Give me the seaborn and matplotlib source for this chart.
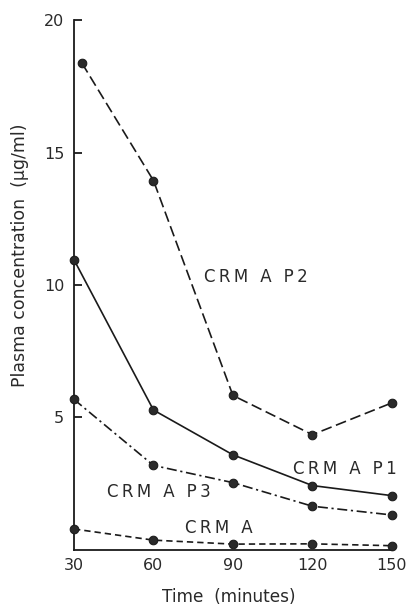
import matplotlib
matplotlib.use("Agg")
import matplotlib.pyplot as plt
import seaborn as sns
import pandas as pd

times = [30, 60, 90, 120, 150]
p2_times = [33, 60, 90, 120, 150]
crm_a_p2 = [18.37, 13.94, 5.83, 4.35, 5.55]
crm_a_p1 = [10.95, 5.28, 3.59, 2.43, 2.05]
crm_a_p3 = [5.68, 3.19, 2.54, 1.65, 1.32]
crm_a = [0.79, 0.37, 0.22, 0.23, 0.16]

x_ticks = [30, 60, 90, 120, 150]
y_ticks = [5, 10, 15, 20]

sns.set_theme(style="ticks")
plt.rcParams['font.family'] = ['DejaVu Sans']


def spaced(s):
    """Widely letter-spaced text, like the typeset original."""
    words = s.split(" ")
    return "\u2009 \u2009".join("\u2009".join(w) for w in words)


fig = plt.figure(figsize=(4.09, 6.07), dpi=100)
ax = fig.add_axes([0.181, 0.094, 0.777, 0.873])

text_color = "#2a2a2a"
series = [
    ("CRM A P2", p2_times, crm_a_p2, (0, (6.5, 2.8))),
    ("CRM A P1", times, crm_a_p1, "-"),
    ("CRM A P3", times, crm_a_p3, (0, (6.0, 2.2, 1.3, 2.2))),
    ("CRM A", times, crm_a, (0, (3.8, 2.4))),
]
for name, xs, ys, ls in series:
    df = pd.DataFrame({"t": xs, "c": ys})
    sns.lineplot(data=df, x="t", y="c", ax=ax, color="#1a1a1a",
                 linewidth=1.2, linestyle=ls, marker="o", markersize=6.2,
                 markeredgecolor="#1a1a1a", markerfacecolor="#2a2a2a",
                 clip_on=False, zorder=3)

labels = [
    ("CRM A P2", 98.5, 10.3),
    ("CRM A P1", 132.3, 3.04),
    ("CRM A P3", 62.0, 2.2),
    ("CRM A", 84.5, 0.84),
]
for txt, x, y in labels:
    ax.text(x, y, spaced(txt), ha="center", va="center",
            fontsize=12, color=text_color)

ax.set_xlim(30, 150)
ax.set_ylim(0, 20)
ax.set_xticks(x_ticks)
ax.set_yticks(y_ticks)
ax.set_xticklabels([str(v) for v in x_ticks])
ax.set_yticklabels([str(v) for v in y_ticks])

for side in ["top", "right"]:
    ax.spines[side].set_visible(False)
for side in ["left", "bottom"]:
    ax.spines[side].set_linewidth(1.3)
    ax.spines[side].set_color("#1a1a1a")

ax.tick_params(axis="y", direction="in", length=6, width=1.3, pad=7,
               labelsize=11.5, labelcolor=text_color, color="#1a1a1a")
ax.tick_params(axis="x", direction="in", length=0, width=1.3, pad=6,
               labelsize=11.5, labelcolor=text_color, color="#1a1a1a")

ax.set_xlabel("Time  (minutes)", fontsize=12.2, color=text_color)
ax.set_ylabel("Plasma concentration  (\u00b5g/ml)", fontsize=12.5,
              color=text_color)
ax.xaxis.set_label_coords(0.487, -0.071)
ax.yaxis.set_label_coords(-0.142, 0.557)

fig.savefig("out.png", dpi=100, facecolor="white")
